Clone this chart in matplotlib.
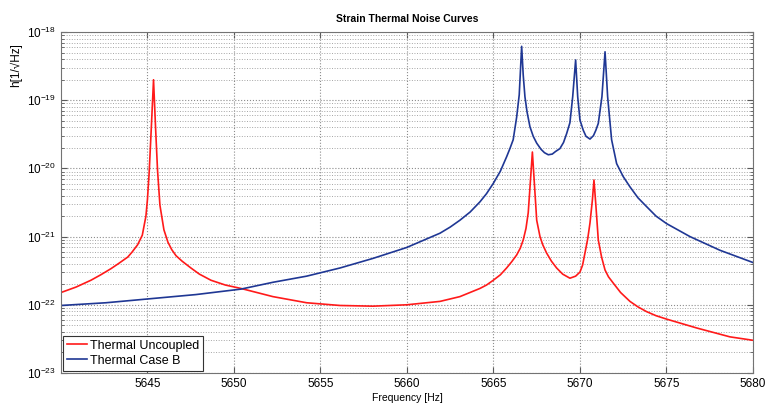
import matplotlib
matplotlib.use("Agg")
import matplotlib.pyplot as plt
from matplotlib.ticker import FixedLocator, NullFormatter
import numpy as np

# 読み取ったデータ (周波数 [Hz], log10 h)
freq_uncoupled = [5640.00, 5640.87, 5641.73, 5642.30, 5642.89, 5643.30, 5643.86, 5644.10,
                  5644.43, 5644.70, 5644.91, 5645.00, 5645.10, 5645.23, 5645.35, 5645.46,
                  5645.58, 5645.72, 5645.95, 5646.18, 5646.40, 5646.65, 5647.00, 5647.51,
                  5648.00, 5648.67, 5649.50, 5650.40, 5652.25, 5654.20, 5656.13, 5658.03,
                  5659.98, 5661.91, 5663.06, 5664.22, 5664.60, 5664.99, 5665.40, 5665.76,
                  5666.05, 5666.34, 5666.55, 5666.72, 5666.88, 5667.01, 5667.14, 5667.25,
                  5667.37, 5667.50, 5667.69, 5667.85, 5668.07, 5668.35, 5668.65, 5669.00,
                  5669.42, 5669.75, 5670.00, 5670.15, 5670.29, 5670.45, 5670.58, 5670.72,
                  5670.81, 5670.92, 5671.06, 5671.25, 5671.45, 5671.65, 5671.92, 5672.35,
                  5672.89, 5673.35, 5673.85, 5674.40, 5675.01, 5676.75, 5678.67, 5680.00]
logh_uncoupled = [-21.82, -21.74, -21.64, -21.56, -21.47, -21.40, -21.30, -21.23,
                  -21.12, -20.98, -20.70, -20.45, -20.05, -19.36, -18.70, -19.36,
                  -20.02, -20.54, -20.90, -21.08, -21.19, -21.28, -21.36, -21.46,
                  -21.55, -21.64, -21.71, -21.76, -21.88, -21.97, -22.01, -22.02,
                  -22.00, -21.95, -21.88, -21.76, -21.71, -21.64, -21.56, -21.46,
                  -21.37, -21.27, -21.17, -21.05, -20.88, -20.65, -20.17, -19.76,
                  -20.24, -20.76, -21.00, -21.12, -21.24, -21.36, -21.46, -21.55,
                  -21.61, -21.58, -21.52, -21.42, -21.24, -21.03, -20.80, -20.46,
                  -20.17, -20.54, -21.05, -21.30, -21.49, -21.59, -21.68, -21.82,
                  -21.95, -22.03, -22.10, -22.16, -22.21, -22.34, -22.47, -22.52]

freq_case_b = [5640.00, 5642.60, 5645.20, 5647.80, 5650.40, 5652.25, 5654.20, 5656.13,
               5658.03, 5659.98, 5661.91, 5662.50, 5663.06, 5663.65, 5664.22, 5664.60,
               5664.99, 5665.40, 5665.76, 5665.95, 5666.14, 5666.34, 5666.49, 5666.63,
               5666.72, 5666.82, 5666.94, 5667.11, 5667.30, 5667.50, 5667.75, 5667.95,
               5668.17, 5668.40, 5668.60, 5668.84, 5669.05, 5669.23, 5669.42, 5669.58,
               5669.75, 5669.87, 5670.00, 5670.19, 5670.35, 5670.58, 5670.78, 5670.92,
               5671.06, 5671.27, 5671.45, 5671.60, 5671.83, 5672.12, 5672.50, 5672.89,
               5673.35, 5673.85, 5674.40, 5675.01, 5676.36, 5678.09, 5680.00]
logh_case_b = [-22.01, -21.97, -21.91, -21.85, -21.77, -21.67, -21.58, -21.46,
               -21.32, -21.16, -20.95, -20.86, -20.76, -20.64, -20.49, -20.37,
               -20.22, -20.04, -19.83, -19.71, -19.58, -19.25, -18.92, -18.21,
               -18.63, -18.95, -19.17, -19.39, -19.53, -19.63, -19.72, -19.77,
               -19.80, -19.79, -19.75, -19.71, -19.62, -19.49, -19.33, -18.95,
               -18.41, -18.95, -19.29, -19.44, -19.53, -19.57, -19.52, -19.44,
               -19.34, -18.95, -18.29, -18.95, -19.58, -19.93, -20.12, -20.27,
               -20.43, -20.56, -20.70, -20.81, -21.00, -21.20, -21.38]

x_ticks = [5645, 5650, 5655, 5660, 5665, 5670, 5675, 5680]
y_decades = [1e-23, 1e-22, 1e-21, 1e-20, 1e-19, 1e-18]

plt.rcParams['font.family'] = ['Liberation Sans', 'DejaVu Sans']

fig = plt.figure(figsize=(7.68, 4.05), dpi=100)
ax = fig.add_axes([0.0794, 0.079, 0.901, 0.842])

ax.plot(freq_uncoupled, 10 ** np.array(logh_uncoupled), color='#ff1a1a', linewidth=1.2,
        label='Thermal Uncoupled')
ax.plot(freq_case_b, 10 ** np.array(logh_case_b), color='#1f3794', linewidth=1.2,
        label='Thermal Case B')

ax.set_yscale('log')
ax.set_xlim(5640, 5680)
ax.set_ylim(1e-23, 1e-18)
ax.set_xticks(x_ticks)
ax.set_yticks(y_decades)
minor = [m * d for d in y_decades[:-1] for m in range(2, 10)]
ax.yaxis.set_minor_locator(FixedLocator(minor))
ax.yaxis.set_minor_formatter(NullFormatter())

# MATLAB風のグリッド
ax.grid(True, which='major', linestyle=':', color='0.55', linewidth=0.8)
ax.grid(True, which='minor', axis='y', linestyle=':', color='0.65', linewidth=0.7)

ax.tick_params(which='both', direction='in', top=True, right=True, labelsize=8.5,
               colors='0.35', labelcolor='black')
ax.tick_params(which='major', length=4)
ax.tick_params(which='minor', length=2)
for s in ax.spines.values():
    s.set_color('0.45')

ax.set_title('Strain Thermal Noise Curves', fontsize=7.5, fontweight='bold', pad=7)
ax.set_xlabel('Frequency [Hz]', fontsize=7.5, labelpad=2)
# 縦軸ラベルは左上寄り
ax.set_ylabel('h[1/\u221aHz]', fontsize=8.5)
ax.yaxis.set_label_coords(-0.056, 0.903)

leg = ax.legend(loc='lower left', fontsize=9, fancybox=False, framealpha=1,
                edgecolor='0.2', handlelength=1.6, handletextpad=0.2,
                borderpad=0.3, labelspacing=0.25, borderaxespad=0.2)
leg.get_frame().set_linewidth(0.8)

fig.savefig('out.png', dpi=100)
